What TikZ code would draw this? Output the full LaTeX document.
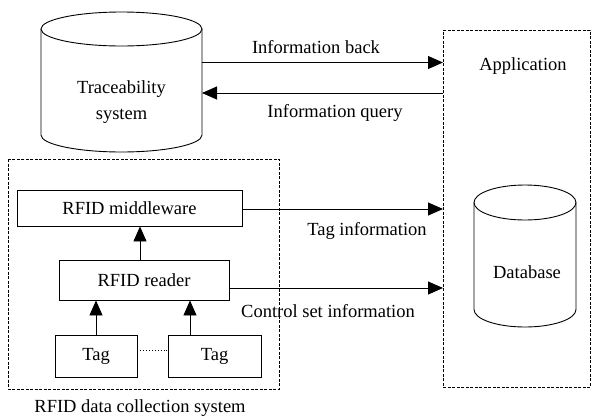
\documentclass[tikz,border=0pt]{standalone}
\usepackage{fontspec}
\setmainfont{Liberation Serif}
\usetikzlibrary{arrows.meta}
\begin{document}
\begin{tikzpicture}[x=1pt,y=-1pt,
  line width=0.9pt,
  every node/.style={font=\fontsize{18.5}{22}\selectfont, inner sep=0pt},
  dbox/.style={draw, dash pattern=on 3pt off 1.5pt, line width=0.8pt},
  arr/.style={-{Triangle[length=15pt,width=13pt]}}]
\useasboundingbox (0,0) rectangle (591,418);

% Traceability cylinder
\draw (41,29) -- (41,135) arc[start angle=180,end angle=0,x radius=80.5,y radius=17] -- (202,29);
\draw (121.5,29) ellipse[x radius=80.5,y radius=17];
\node[minimum width=161pt, minimum height=140pt] (trace) at (121.5,82) {};
\node[align=center] (tracetxt) at (121.5,102) {Traceability\\[4pt]system};

% Application box
\draw[dbox] (443,30) -- (590,30) -- (590,387) -- (443,387) -- cycle;
\node[minimum width=147pt, minimum height=357pt] (app) at (516.5,208.5) {};
\node (apptxt) at (523,66) {Application};

% Database cylinder
\draw (474,202.5) -- (474,309.5) arc[start angle=180,end angle=0,x radius=51,y radius=17.5] -- (576,202.5);
\draw (525,202.5) ellipse[x radius=51,y radius=17.5];
\node (dbtxt) at (527,272) {Database};

% RFID data collection system box
\draw[dbox] (8,159) rectangle (279,389);
\node (rfidsys) at (140,408) {RFID data collection system};

% inner boxes
\node[draw, minimum width=225pt, minimum height=36pt] (mid) at (129.5,208) {RFID middleware};
\node[draw, minimum width=170pt, minimum height=40pt] (reader) at (144,280) {RFID reader};
\node[draw, minimum width=82pt, minimum height=42pt] (tag1) at (96,356) {Tag};
\node[draw, minimum width=93pt, minimum height=42pt] (tag2) at (214.5,356) {Tag};

% coordinates for connectors
\coordinate (tbS) at (202,62.5);
\coordinate (tbE) at (443,62.5);
\coordinate (iqS) at (443,93);
\coordinate (iqE) at (202,93);
\coordinate (tiE) at (443,209);
\coordinate (csE) at (443,288);
\coordinate (rmx) at (140,0);
\coordinate (t2x) at (190,0);
\coordinate (dy) at (0,350);

\draw[arr] (tbS) -- (tbE);
\node (lb1) at (316,47) {Information back};
\draw[arr] (iqS) -- (iqE);
\node (lb2) at (335,113) {Information query};

\draw[arr] (mid.east |- tiE) -- (tiE);
\node (lb3) at (367,231) {Tag information};
\draw[arr] (reader.east |- csE) -- (csE);
\node (lb4) at (328,311) {Control set information};

\draw[arr] (reader.north -| rmx) -- (mid.south -| rmx);
\draw[arr] (tag1.north) -- (tag1.north |- reader.south);
\draw[arr] (tag2.north -| t2x) -- (reader.south -| t2x);
\draw[dotted, line width=0.9pt] (tag1.east |- dy) -- (tag2.west |- dy);
\end{tikzpicture}
\end{document}
